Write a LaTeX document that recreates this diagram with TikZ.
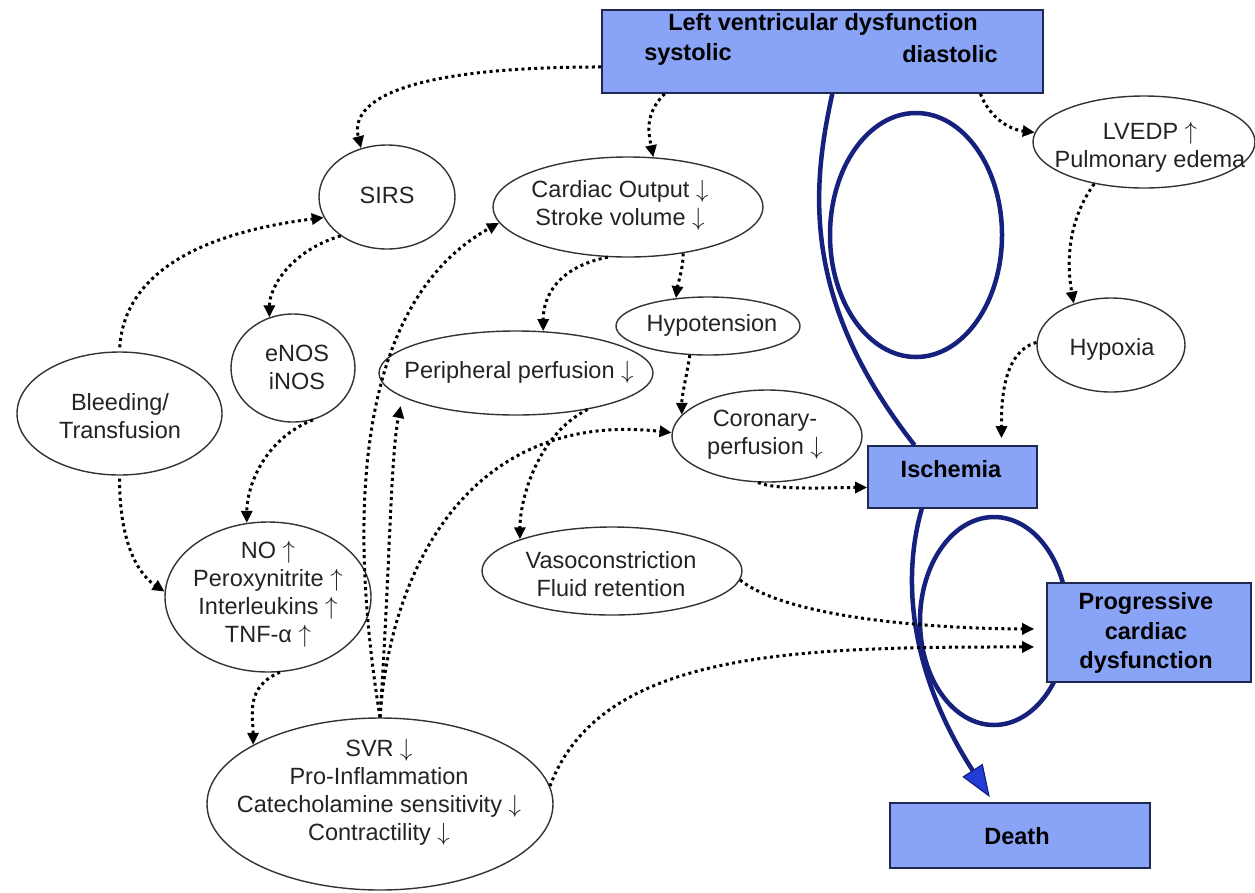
\documentclass[tikz,border=0pt]{standalone}
\usepackage{fontspec}
\setmainfont{Liberation Sans}
\usetikzlibrary{shapes.geometric,arrows.meta}
\definecolor{boxfill}{RGB}{137,163,247}
\definecolor{boxline}{RGB}{30,40,80}
\definecolor{navy}{RGB}{22,32,125}
\definecolor{tipblue}{RGB}{35,60,215}
\definecolor{txt}{RGB}{35,35,35}
\newcommand\myup{{\fontsize{25}{25}\selectfont$\uparrow$}}
\newcommand\mydown{{\fontsize{25}{25}\selectfont$\downarrow$}}
\begin{document}
\begin{tikzpicture}[x=1pt,y=-1pt,
  ell/.style={draw=black!80, line width=1.4pt, ellipse, inner sep=0pt},
  lbl/.style={align=center, text=txt, font=\fontsize{23.5}{28}\selectfont, inner sep=0pt},
  boxn/.style={draw=boxline, line width=1.6pt, fill=boxfill, rectangle, inner sep=0pt},
  blbl/.style={align=center, font=\fontsize{23.5}{29.5}\selectfont\bfseries, inner sep=0pt},
  dotc/.style={line width=3pt, dash pattern=on 3pt off 3.4pt, -{Triangle[length=12pt,width=11pt]}},
  navyline/.style={draw=navy, line width=4.5pt},
]
\useasboundingbox (0,0) rectangle (1255,892);

% blue loops (behind boxes)
\draw[navyline] (916,235) ellipse [x radius=86, y radius=122];
\draw[navyline] (994,621) ellipse [x radius=74, y radius=104];

% boxes
\node[boxn, minimum width=441pt, minimum height=83pt] (lvd) at (822.5,51.5) {};
\node[blbl] (lvdA) at (823,24) {Left ventricular dysfunction};
\node[blbl] (lvdB) at (688,54) {systolic};
\node[blbl] (lvdC) at (950,54) {diastolic};
\node[boxn, minimum width=169pt, minimum height=62pt] (isch) at (952.5,477) {};
\node[blbl] (ischT) at (951,469) {Ischemia};
\node[boxn, minimum width=204pt, minimum height=99pt] (prog) at (1149,632.5) {};
\node[blbl] (progT) at (1146,633) {Progressive\\cardiac\\dysfunction};
\node[boxn, minimum width=260pt, minimum height=65pt] (death) at (1020,835.5) {};
\node[blbl] (deathT) at (1017,836) {Death};

% ellipses
\node[ell, minimum width=136pt, minimum height=104pt] (sirs) at (387,197) {};
\node[lbl] (sirsT) at (387,195) {SIRS};
\node[ell, minimum width=270pt, minimum height=100pt] (co) at (628,207) {};
\node[lbl] (coT) at (620,205) {Cardiac Output \mydown\\Stroke volume \mydown};
\node[ell, minimum width=222pt, minimum height=92pt] (lvedp) at (1144,142) {};
\node[lbl] (lvedpT) at (1150,147) {LVEDP \myup\\Pulmonary edema};
\node[ell, minimum width=124pt, minimum height=108pt] (enos) at (293,368) {};
\node[lbl] (enosT) at (297,367) {eNOS\\iNOS};
\node[ell, minimum width=205pt, minimum height=123pt] (bleed) at (119.5,413.5) {};
\node[lbl] (bleedT) at (120,416) {Bleeding/\\Transfusion};
\node[ell, minimum width=184pt, minimum height=58pt] (hypo) at (708,326) {};
\node[lbl] (hypoT) at (712,325) {Hypotension};
\node[ell, minimum width=274pt, minimum height=84pt] (peri) at (516,373) {};
\node[lbl] (periT) at (519,372) {Peripheral perfusion \mydown};
\node[ell, minimum width=148pt, minimum height=94pt] (hypox) at (1111,345) {};
\node[lbl] (hypoxT) at (1112,349) {Hypoxia};
\node[ell, minimum width=190pt, minimum height=92pt] (cor) at (767,436) {};
\node[lbl] (corT) at (765,435) {Coronary-\\perfusion \mydown};
\node[ell, minimum width=206pt, minimum height=150pt] (no) at (268,597) {};
\node[lbl] (noT) at (268,594) {NO \myup\\Peroxynitrite \myup\\Interleukins \myup\\TNF-α \myup};
\node[ell, minimum width=260pt, minimum height=88pt] (vaso) at (612,571) {};
\node[lbl] (vasoT) at (611,574) {Vasoconstriction\\Fluid retention};
\node[ell, minimum width=346pt, minimum height=172pt] (svr) at (380,804) {};
\node[lbl] (svrT) at (379,792) {SVR \mydown\\Pro-Inflammation\\Catecholamine sensitivity \mydown\\Contractility \mydown};

% blue main path
\draw[navyline] (lvd.283) .. controls +(-20,92) and +(-115,-146) .. (isch.140.4);
\draw[navyline, shorten >=6pt, -{Triangle[length=32pt,width=24pt,fill=tipblue,line width=1.2pt]}]
  (isch.226.4) .. controls +(-18,62) and +(-88,-137) .. (death.129.7);

% dotted connectors
\draw[dotc] (lvd.184) .. controls +(-220,0) and +(-10,-40) .. (sirs.118);
\draw[dotc] (lvd.195.4) .. controls +(-20,20) and +(-5,-25) .. (co.63);
\draw[dotc] (lvd.345.4) .. controls +(10,25) and +(-25,-3) .. (lvedp.175);
\draw[dotc] (lvedp.220) .. controls +(-25,35) and +(-8,-45) .. (hypox.132);
\draw[dotc, shorten >=7pt] (hypox.178) .. controls +(-35,10) and +(0,-40) .. (isch.33.1);
\draw[dotc] (co.248) .. controls +(-50,10) and +(0,-35) .. (peri.57);
\draw[dotc] (co.320) .. controls +(0,15) and +(2,-15) .. (hypo.139);
\draw[dotc] (hypo.238) .. controls +(-3,20) and +(0,-20) .. (cor.166);
\draw[dotc] (cor.259) .. controls +(20,8) and +(-40,0) .. (isch.187);
\draw[dotc, shorten <=4pt] (bleed.north) .. controls +(5,-80) and +(-120,15) .. (sirs.198);
\draw[dotc] (sirs.220) .. controls +(-50,15) and +(0,-30) .. (enos.115);
\draw[dotc] (enos.291) .. controls +(-50,20) and +(0,-35) .. (no.106);
\draw[dotc, shorten <=3pt] (bleed.south) .. controls +(0,60) and +(-30,-20) .. (no.177);
\draw[dotc] (no.279) .. controls +(-35,15) and +(0,-30) .. (svr.155);
\draw[dotc] (svr.north) .. controls +(-35,-218) and +(-138,77) .. (co.187);
\draw[dotc, shorten >=9pt] (svr.north) .. controls +(10,-150) and +(-12,60) .. (peri.192.5);
\draw[dotc] (svr.north) .. controls +(10,-148) and +(-202,-23) .. (cor.178);
\draw[dotc] (peri.333) .. controls +(-50,25) and +(0,-40) .. (vaso.161);
\draw[dotc, shorten >=12pt] (vaso.356) .. controls +(50,40) and +(-100,0) .. (prog.178);
\draw[dotc, shorten >=12pt] (svr.6) .. controls +(51,-136) and +(-250,0) .. (prog.188);
\end{tikzpicture}
\end{document}
